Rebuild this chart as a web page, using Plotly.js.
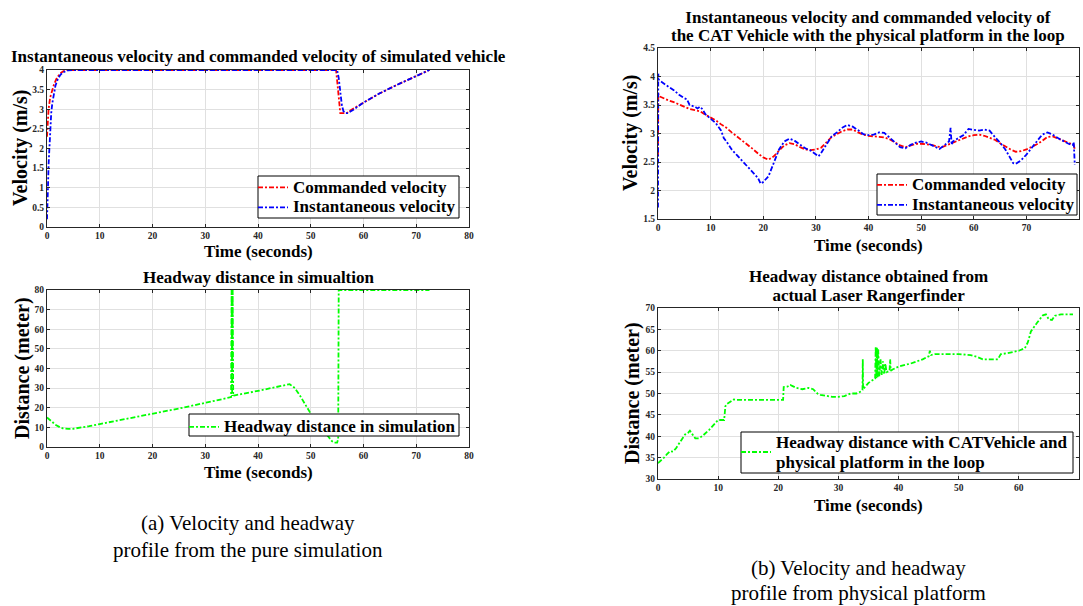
<!DOCTYPE html>
<html><head><meta charset="utf-8">
<script src="https://cdn.plot.ly/plotly-3.0.1.min.js"></script>
<style>html,body{margin:0;padding:0;background:#fff;}#plot{width:1083px;height:606px;}</style>
</head><body><div id="plot"></div>
<script>
// ---------- Data: (a) pure simulation ----------
const simCmdT = [0, 0.15, 0.3, 0.6, 0.9, 1.3, 1.8, 2.4, 3.0, 3.6, 10, 30, 50, 54.8, 55.1, 55.4, 55.6, 56.2, 56.8, 57.5, 60, 63, 66, 70, 72.5];
const simCmdV = [2.3, 2.7, 3.0, 3.3, 3.45, 3.62, 3.78, 3.9, 3.96, 4.0, 4.0, 4.0, 4.0, 4.0, 3.6, 3.1, 2.9, 2.9, 2.9, 2.97, 3.17, 3.4, 3.6, 3.84, 4.0];
const simActT = [0, 0.05, 0.1, 0.15, 0.2, 0.3, 0.45, 0.6, 0.8, 1.0, 1.3, 1.6, 2.0, 2.5, 3.0, 3.5, 4.0, 5.0, 10, 30, 50, 55.0, 55.3, 55.6, 55.9, 56.2, 56.6, 57.0, 57.5, 58, 60, 63, 66, 70, 72.5];
const simActV = [0.2, 0.7, 0.4, 0.7, 1.1, 1.6, 2.1, 2.5, 2.9, 3.15, 3.4, 3.6, 3.75, 3.87, 3.94, 3.97, 3.99, 4.0, 4.0, 4.0, 4.0, 4.0, 3.8, 3.4, 3.1, 2.95, 2.9, 2.9, 2.93, 2.98, 3.17, 3.4, 3.6, 3.84, 4.0];
const simGapT = [0, 0.5, 1, 1.5, 2, 2.5, 3, 3.5, 4, 5, 6, 8, 10, 15, 20, 25, 30, 34.8, 34.9, 35.0, 35.1, 35.2, 35.3, 35.4, 40, 46, 47, 48, 50, 52, 53, 54, 54.5, 55.0, 55.2, 55.25, 55.3, 60, 65, 70, 72.5];
const simGapD = [15, 14, 12.8, 11.5, 10.6, 10, 9.5, 9.3, 9.2, 9.3, 9.7, 10.6, 11.7, 14.3, 16.8, 19.6, 22.5, 25.2, 25.4, 80, 26, 80, 26, 26.2, 28.6, 32, 30, 26, 17, 9.5, 6.5, 3, 2.2, 2.2, 4, 80, 80, 80, 80, 80, 80];

// ---------- Data: (b) physical platform ----------
const phyCmdT = [0, 0.05, 0.3, 1, 2, 3, 4, 5, 6, 7, 8, 9, 10, 11, 12, 13, 14, 15, 16, 17, 18, 19, 20, 21, 22, 23, 24, 25, 26, 27, 28, 29, 30, 31, 32, 33, 34, 35, 36, 37, 38, 39, 40, 41, 42, 43, 44, 45, 46, 47, 48, 49, 50, 51, 52, 53, 54, 55, 56, 57, 58, 59, 60, 61, 62, 63, 64, 65, 66, 67, 68, 69, 70, 71, 72, 73, 74, 75, 76, 77, 78, 79, 79.2];
const phyCmdV = [2.6, 3.7, 3.65, 3.62, 3.58, 3.55, 3.51, 3.48, 3.43, 3.41, 3.39, 3.33, 3.28, 3.23, 3.16, 3.1, 3.02, 2.95, 2.88, 2.81, 2.73, 2.65, 2.58, 2.54, 2.6, 2.7, 2.79, 2.83, 2.81, 2.76, 2.72, 2.71, 2.72, 2.75, 2.84, 2.94, 2.99, 3.04, 3.07, 3.07, 3.02, 2.98, 2.96, 2.95, 2.95, 2.93, 2.9, 2.85, 2.79, 2.76, 2.79, 2.82, 2.82, 2.81, 2.8, 2.77, 2.76, 2.8, 2.84, 2.88, 2.92, 2.95, 2.97, 2.98, 2.96, 2.93, 2.89, 2.83, 2.77, 2.72, 2.68, 2.69, 2.72, 2.76, 2.81, 2.87, 2.94, 2.95, 2.91, 2.88, 2.83, 2.8, 2.72];
const phyActT = [0, 0.05, 0.1, 0.3, 1, 2, 3, 4, 5, 5.5, 6, 7, 7.5, 8, 8.5, 9, 10, 11, 12, 12.5, 13, 14, 15, 16, 17, 18, 19, 19.5, 20, 21, 22, 23, 24, 25, 26, 27, 28, 29, 30, 30.5, 31, 32, 33, 34, 35, 36, 37, 38, 39, 40, 41, 42, 43, 44, 45, 46, 47, 48, 49, 50, 51, 52, 53, 53.5, 54.5, 55.3, 55.6, 55.8, 56, 57, 58, 59, 60, 61, 62, 63, 64, 65, 66, 67, 67.5, 68, 69, 70, 71, 72, 73, 74, 75, 76, 77, 78, 78.8, 79, 79.2];
const phyActV = [1.7, 4.05, 3.95, 3.93, 3.88, 3.82, 3.76, 3.68, 3.62, 3.6, 3.5, 3.47, 3.44, 3.47, 3.42, 3.34, 3.26, 3.18, 3.05, 2.92, 2.86, 2.72, 2.62, 2.52, 2.42, 2.33, 2.22, 2.12, 2.15, 2.25, 2.48, 2.72, 2.86, 2.91, 2.87, 2.8, 2.74, 2.7, 2.64, 2.6, 2.66, 2.8, 2.95, 3.02, 3.1, 3.15, 3.12, 3.06, 2.99, 2.97, 2.98, 3.02, 3.01, 2.93, 2.84, 2.76, 2.74, 2.8, 2.84, 2.86, 2.84, 2.8, 2.75, 2.73, 2.8, 2.86, 3.1, 2.8, 2.86, 2.92, 2.97, 3.08, 3.07, 3.05, 3.07, 3.05, 2.94, 2.84, 2.72, 2.55, 2.48, 2.47, 2.53, 2.63, 2.75, 2.88, 2.98, 3.02, 2.98, 2.92, 2.87, 2.82, 2.8, 2.85, 2.45];
const phyGapT = [0, 0.5, 1, 1.5, 2, 2.5, 3, 3.5, 4, 4.5, 5, 5.3, 5.7, 6.2, 6.8, 7.5, 8.5, 9.5, 10, 11, 11.2, 11.4, 12, 12.6, 13, 15, 18, 20.8, 20.9, 21.5, 22, 23, 24, 25, 25.8, 26.5, 27, 28, 29, 30, 31, 32, 33, 33.8, 34.0, 34.05, 34.1, 35, 36, 36.1, 36.2, 36.3, 36.4, 36.5, 36.6, 36.8, 37.0, 37.2, 37.4, 37.6, 37.8, 38, 38.5, 38.6, 38.7, 39, 40, 42, 44, 45, 45.2, 45.4, 46, 48, 50, 52, 53, 54, 55, 56.5, 57, 58, 60, 61, 61.5, 62, 63, 64, 64.5, 65, 65.5, 66, 67, 68, 69];
const phyGapD = [33.7, 34.3, 35, 35.8, 36.5, 36.4, 37.2, 38.3, 39.4, 40.4, 40.8, 41.3, 40.5, 39.5, 39.5, 40.2, 41.5, 43, 43.8, 43.8, 47, 47.5, 48, 48.6, 48.5, 48.5, 48.5, 48.5, 51.5, 51.6, 52, 51.3, 51, 51.3, 51, 50, 49.7, 49.5, 49.2, 49.2, 49.4, 50, 50, 50.5, 50.8, 58, 51, 52.5, 53.5, 53.5, 61, 53.6, 60.8, 53.8, 60.5, 54, 58, 54.3, 57.5, 54.5, 57, 55, 55.3, 58, 55.3, 55.6, 56.3, 57, 58, 58.7, 60, 59, 59.2, 59.2, 59.2, 59, 58.6, 58, 58, 58, 59.2, 59.4, 60, 60.6, 62, 64.5, 66.5, 68.3, 68.5, 67.3, 67.2, 68.2, 68.5, 68.5, 68.5];

// ---------- Text ----------
const titleA1 = "Instantaneous velocity and commanded velocity of simulated vehicle";
const titleA2 = "Headway distance in simualtion";
const titleB1 = ["Instantaneous velocity and commanded velocity of", "the CAT Vehicle with the physical platform in the loop"];
const titleB2 = ["Headway distance obtained from", "actual Laser Rangerfinder"];
const xTitle = "Time (seconds)";
const yVel = "Velocity (m/s)";
const yDist = "Distance (meter)";
const nameCmd = "Commanded velocity";
const nameAct = "Instantaneous velocity";
const nameSimGap = "Headway distance in simulation";
const namePhyGap = ["Headway distance with CATVehicle and", "physical platform in the loop"];
const capA = ["(a) Velocity and headway", "profile from the pure simulation"];
const capB = ["(b) Velocity and headway", "profile from physical platform"];

const W = 1083, H = 606;
const serif = "'Liberation Serif', 'Times New Roman', serif";
const px = v => v / W, py = v => 1 - v / H;
const big = s => '<span style="font-size:17px">' + s + '</span>';

const RED = "#ff0000", BLUE = "#0000ff", GREEN = "#00ff00";
function ln(color){ return {color: color, width: 1.8, dash: "5px,2px,2px,2px"}; }

const traces = [
  {x: simCmdT, y: simCmdV, xaxis: "x", yaxis: "y", name: big(nameCmd), mode: "lines", line: ln(RED), legend: "legend"},
  {x: simActT, y: simActV, xaxis: "x", yaxis: "y", name: big(nameAct), mode: "lines", line: ln(BLUE), legend: "legend"},
  {x: simGapT, y: simGapD, xaxis: "x2", yaxis: "y2", name: big(nameSimGap), mode: "lines", line: ln(GREEN), legend: "legend2"},
  {x: phyCmdT, y: phyCmdV, xaxis: "x3", yaxis: "y3", name: big(nameCmd), mode: "lines", line: ln(RED), legend: "legend3"},
  {x: phyActT, y: phyActV, xaxis: "x3", yaxis: "y3", name: big(nameAct), mode: "lines", line: ln(BLUE), legend: "legend3"},
  {x: phyGapT, y: phyGapD, xaxis: "x4", yaxis: "y4", name: namePhyGap.map(big).join("<br>"), mode: "lines", line: ln(GREEN), legend: "legend4"}
];

const tickFont = {family: serif, size: 9.5, color: "#262626", weight: "bold"};
function ax(domain, anchor, range, dtick){
  return {domain: domain, anchor: anchor, range: range, dtick: dtick, tick0: 0,
    showgrid: true, gridcolor: "#e0e0e0", gridwidth: 1, zeroline: false,
    showline: true, linecolor: "#262626", linewidth: 1, mirror: "ticks",
    ticks: "inside", ticklen: 3, tickcolor: "#262626", tickfont: tickFont, fixedrange: true};
}
const leftX = [px(47), px(469)];
const rightX = [px(658), px(1079)];

// legend frames (white box with black border), legend entries placed inside
const legBoxes = [[258, 176, 459, 218], [189, 414, 459, 436], [877, 174, 1077, 215], [741, 432, 1073, 473]];
function leg(x, top, size){
  return {bgcolor: "rgba(0,0,0,0)", borderwidth: 0,
    font: {family: serif, size: size, color: "#000", weight: "bold"}, itemwidth: 30,
    x: px(x), y: py(top), xanchor: "left", yanchor: "top"};
}

const layout = {
  width: W, height: H, margin: {l: 0, r: 0, t: 0, b: 0},
  paper_bgcolor: "#fff", plot_bgcolor: "#fff", showlegend: true,
  xaxis: ax(leftX, "y", [0, 80], 10),
  yaxis: ax([py(227), py(70)], "x", [0, 4], 0.5),
  xaxis2: ax(leftX, "y2", [0, 80], 10),
  yaxis2: ax([py(447), py(290)], "x2", [0, 80], 10),
  xaxis3: ax(rightX, "y3", [0, 80], 10),
  yaxis3: ax([py(219), py(48)], "x3", [1.5, 4.5], 0.5),
  xaxis4: ax(rightX, "y4", [0, 70], 10),
  yaxis4: ax([py(479), py(308)], "x4", [30, 70], 5),
  legend: leg(253, 172.5, 13),
  legend2: leg(184, 412, 13),
  legend3: leg(872, 170, 13),
  legend4: leg(736, 426, 15),
  shapes: legBoxes.map(b => ({type: "rect", xref: "paper", yref: "paper", layer: "above",
    x0: px(b[0]), x1: px(b[2]), y0: py(b[3]), y1: py(b[1]),
    fillcolor: "#ffffff", line: {color: "#000000", width: 1}})),
  annotations: []
};

function ann(text, x, y, size, opts){
  layout.annotations.push(Object.assign({text: text, x: px(x), y: py(y), xref: "paper", yref: "paper",
    showarrow: false, xanchor: "center", yanchor: "middle",
    font: {family: serif, size: size, color: "#000", weight: "bold"}}, opts || {}));
}
// titles (two-line titles: small outer size sets tight line spacing, span sets glyph size)
ann(titleA1, 258, 57, 17);
ann(titleA2, 258, 277, 17);
ann(titleB1.map(big).join("<br>"), 868, 26.5, 13.5);
ann(titleB2.map(big).join("<br>"), 868, 285.5, 14.5);
// x titles
ann(xTitle, 258, 252, 17);
ann(xTitle, 258, 472, 17);
ann(xTitle, 868, 245, 17);
ann(xTitle, 868, 505, 17);
// y titles
ann(yVel, 20, 148, 20, {textangle: -90});
ann(yDist, 22, 368, 20, {textangle: -90});
ann(yVel, 630, 133, 20, {textangle: -90});
ann(yDist, 632, 393, 20, {textangle: -90});
// captions
const capFont = {family: serif, size: 21, color: "#000", weight: "normal"};
ann(capA[0], 248, 523, 21, {font: capFont});
ann(capA[1], 248, 550, 21, {font: capFont});
ann(capB[0], 858, 568, 21, {font: capFont});
ann(capB[1], 858, 593, 21, {font: capFont});

Plotly.newPlot("plot", traces, layout, {staticPlot: true, displayModeBar: false});
</script>
</body></html>
